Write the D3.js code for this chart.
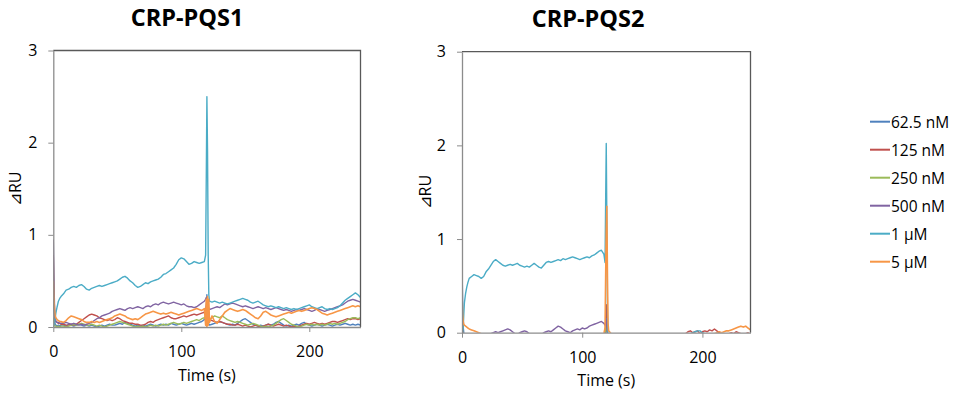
<!DOCTYPE html>
<html><head><meta charset="utf-8">
<script src="https://cdn.jsdelivr.net/npm/d3@7"></script>
<style>body{margin:0;background:#fff}svg{display:block}text{font-family:"Open Sans",sans-serif;fill:#000}</style>
</head><body><svg id="c" width="959" height="394"></svg>
<script>
const times = [0,0.5,1,1.5,2,3,4,5,6,
8,10,12,14,16,18,20,22,24,26,
28,30,32,34,36,38,40,42,44,46,
48,50,52,54,56,58,60,62,64,66,
68,70,72,74,76,78,80,82,84,86,
88,90,92,94,96,98,100,102,104,106,
108,110,112,114,116,118,
119,119.5,120,120.5,121,121.5,122,
124,126,128,130,132,134,136,138,140,142,
144,146,148,150,152,154,156,158,160,162,
164,166,168,170,172,174,176,178,180,182,
184,186,188,190,192,194,196,198,200,202,
204,206,208,210,212,214,216,218,220,222,
224,226,228,230,232,234,236,238,240];
const seriesNames = ["62.5 nM","125 nM","250 nM","500 nM","1 µM","5 µM"];
const panelTitles = ["CRP-PQS1","CRP-PQS2"];
const xTickValues = [0,100,200];
const yTickValues = [0,1,2,3];
const xLabel = "Time (s)";
const yLabel = "⊿RU";

// CRP-PQS1
const pqs1_62_5nM = [0.3,0.15,0.06,0.03,0.02,0.01,0.02,0.01,0.02,
0.02,0.01,0.03,0.02,0.01,0.02,0.03,0.02,0.01,0.02,
0.01,0.02,0.01,0.00,0.01,0.02,0.01,0.02,0.03,0.02,
0.02,0.03,0.04,0.03,0.05,0.04,0.03,0.02,0.01,0.02,
0.01,0.02,0.01,0.02,0.03,0.02,0.01,0.02,0.03,0.02,
0.03,0.02,0.04,0.03,0.02,0.03,0.04,0.03,0.02,0.03,
0.04,0.03,0.04,0.05,0.06,0.08,
0.1,0.2,0.35,0.15,0.05,0.03,0.02,
0.03,0.04,0.05,0.06,0.05,0.04,0.03,0.02,0.03,0.02,
0.04,0.06,0.08,0.09,0.07,0.05,0.03,0.02,0.01,0.02,
0.01,0.02,0.03,0.02,0.03,0.05,0.06,0.04,0.02,0.01,
0.02,0.01,0.02,0.03,0.02,0.04,0.05,0.03,0.02,0.01,
0.02,0.03,0.02,0.01,0.02,0.03,0.02,0.01,0.02,0.03,
0.02,0.03,0.04,0.03,0.02,0.03,0.02,0.03,0.02];
const pqs1_125nM = [0.78,0.4,0.15,0.08,0.06,0.05,0.04,0.04,0.03,
0.03,0.02,0.02,0.03,0.02,0.03,0.05,0.07,0.09,0.11,
0.13,0.14,0.13,0.12,0.1,0.09,0.08,0.07,0.08,0.07,
0.08,0.1,0.09,0.07,0.06,0.05,0.04,0.04,0.03,0.03,
0.02,0.02,0.03,0.05,0.06,0.05,0.07,0.08,0.09,0.1,
0.11,0.12,0.1,0.09,0.09,0.1,0.11,0.12,0.11,0.12,
0.13,0.14,0.13,0.14,0.15,0.16,
0.18,0.22,0.28,0.2,0.12,0.1,0.08,
0.07,0.06,0.05,0.06,0.05,0.04,0.03,0.03,0.02,0.02,
0.03,0.02,0.01,0.02,0.01,0.0,0.01,0.02,0.01,0.0,
0.01,0.02,0.03,0.02,0.01,0.02,0.03,0.02,0.01,0.02,
0.01,0.0,0.01,0.0,0.01,0.02,0.03,0.04,0.03,0.04,
0.05,0.04,0.03,0.04,0.03,0.04,0.05,0.06,0.06,0.05,
0.06,0.07,0.08,0.09,0.08,0.09,0.09,0.08,0.09];
const pqs1_250nM = [0.1,0.05,0.02,0.01,0.01,0.0,0.01,0.0,0.01,
0.01,0.0,0.01,0.02,0.03,0.02,0.03,0.04,0.03,0.02,
0.02,0.03,0.02,0.01,0.02,0.01,0.0,0.01,0.02,0.03,
0.04,0.05,0.06,0.05,0.04,0.03,0.02,0.01,0.0,0.01,
0.0,0.01,0.0,0.01,0.02,0.01,0.02,0.01,0.02,0.03,
0.02,0.03,0.04,0.05,0.04,0.03,0.04,0.05,0.04,0.05,
0.06,0.07,0.08,0.07,0.09,0.1,
0.12,0.16,0.2,0.14,0.1,0.09,0.08,
0.1,0.12,0.11,0.1,0.12,0.1,0.08,0.07,0.06,0.05,
0.06,0.05,0.04,0.03,0.02,0.03,0.04,0.03,0.02,0.01,
0.0,0.01,0.0,0.01,0.02,0.04,0.06,0.08,0.09,0.07,
0.05,0.03,0.02,0.01,0.0,0.01,0.02,0.03,0.02,0.03,
0.02,0.03,0.02,0.03,0.02,0.03,0.04,0.03,0.04,0.03,
0.04,0.05,0.06,0.08,0.09,0.1,0.1,0.09,0.1];
const pqs1_500nM = [0.95,0.5,0.2,0.1,0.06,0.05,0.05,0.04,0.04,
0.04,0.05,0.04,0.03,0.04,0.03,0.02,0.03,0.02,0.03,
0.04,0.05,0.07,0.09,0.1,0.12,0.13,0.14,0.15,0.17,
0.18,0.19,0.2,0.19,0.18,0.2,0.21,0.2,0.21,0.22,
0.21,0.2,0.22,0.23,0.22,0.24,0.25,0.24,0.26,0.27,
0.26,0.25,0.26,0.27,0.26,0.25,0.24,0.25,0.23,0.22,
0.22,0.21,0.22,0.24,0.26,0.28,
0.3,0.32,0.3,0.25,0.22,0.2,0.19,
0.2,0.21,0.22,0.21,0.23,0.25,0.24,0.25,0.26,0.25,
0.24,0.23,0.22,0.23,0.22,0.21,0.2,0.21,0.22,0.21,
0.2,0.21,0.2,0.19,0.2,0.21,0.2,0.19,0.18,0.19,
0.18,0.17,0.18,0.19,0.18,0.19,0.2,0.19,0.18,0.17,
0.18,0.2,0.19,0.18,0.17,0.18,0.19,0.2,0.21,0.22,
0.23,0.24,0.26,0.28,0.29,0.3,0.29,0.28,0.27];
const pqs1_1uM = [0.0,0.02,0.05,0.1,0.15,0.22,0.28,0.31,0.33,
0.36,0.4,0.41,0.43,0.44,0.43,0.45,0.46,0.44,0.41,
0.40,0.42,0.43,0.44,0.45,0.44,0.45,0.46,0.47,0.48,
0.49,0.5,0.52,0.54,0.55,0.53,0.5,0.48,0.45,0.43,
0.44,0.46,0.48,0.47,0.49,0.5,0.51,0.52,0.54,0.57,
0.58,0.6,0.62,0.64,0.68,0.73,0.75,0.74,0.71,0.68,
0.69,0.71,0.7,0.69,0.7,0.71,
0.78,1.6,2.5,1.9,0.8,0.35,0.28,
0.27,0.28,0.27,0.26,0.27,0.26,0.25,0.26,0.27,0.28,
0.29,0.3,0.31,0.3,0.29,0.27,0.26,0.27,0.28,0.26,
0.24,0.23,0.22,0.23,0.22,0.21,0.22,0.21,0.2,0.21,
0.2,0.19,0.2,0.19,0.2,0.21,0.22,0.23,0.24,0.22,
0.21,0.2,0.21,0.22,0.2,0.19,0.2,0.19,0.2,0.21,
0.23,0.26,0.29,0.31,0.33,0.35,0.37,0.35,0.32];
const pqs1_5uM = [0.5,0.3,0.18,0.12,0.1,0.08,0.07,0.06,0.06,
0.05,0.07,0.1,0.12,0.11,0.1,0.09,0.08,0.06,0.05,
0.05,0.06,0.05,0.06,0.05,0.06,0.07,0.08,0.09,0.1,
0.12,0.13,0.14,0.13,0.12,0.1,0.09,0.08,0.09,0.08,
0.1,0.12,0.14,0.15,0.16,0.17,0.16,0.15,0.14,0.15,
0.14,0.15,0.16,0.15,0.14,0.13,0.14,0.15,0.16,0.17,
0.18,0.19,0.2,0.19,0.18,0.2,
0.02,0.3,0.0,0.33,0.02,0.3,0.05,
0.12,0.06,0.04,0.08,0.12,0.16,0.18,0.2,0.19,0.18,
0.17,0.18,0.19,0.18,0.16,0.14,0.12,0.1,0.09,0.12,
0.16,0.17,0.15,0.13,0.12,0.11,0.12,0.13,0.14,0.15,
0.16,0.15,0.16,0.17,0.18,0.17,0.18,0.19,0.2,0.21,
0.2,0.19,0.17,0.15,0.14,0.13,0.14,0.15,0.16,0.17,
0.18,0.19,0.2,0.21,0.22,0.23,0.22,0.23,0.22];

// CRP-PQS2
const pqs2_62_5nM = [0.72,0.35,0.06,0.0,-0.02,-0.03,-0.03,-0.04,-0.04,
-0.04,-0.05,-0.05,-0.06,-0.05,-0.06,-0.05,-0.05,-0.06,-0.05,
-0.05,-0.06,-0.05,-0.04,-0.05,-0.06,-0.05,-0.05,-0.04,-0.05,
-0.05,-0.04,-0.05,-0.06,-0.05,-0.05,-0.04,-0.05,-0.06,-0.05,
-0.05,-0.06,-0.05,-0.05,-0.04,-0.05,-0.06,-0.05,-0.05,-0.04,
-0.05,-0.05,-0.06,-0.05,-0.04,-0.05,-0.05,-0.06,-0.05,-0.05,
-0.04,-0.05,-0.05,-0.04,-0.03,-0.04,
-0.04,0.05,0.2,0.08,-0.03,-0.05,-0.05,
-0.05,-0.06,-0.05,-0.05,-0.04,-0.05,-0.06,-0.05,-0.05,-0.04,
-0.05,-0.05,-0.06,-0.05,-0.04,-0.05,-0.05,-0.06,-0.05,-0.05,
-0.04,-0.05,-0.05,-0.06,-0.05,-0.04,-0.05,-0.05,-0.04,-0.03,
-0.03,-0.02,-0.01,-0.02,-0.01,-0.02,-0.03,-0.02,-0.03,-0.04,
-0.04,-0.03,-0.02,-0.03,-0.02,-0.01,-0.02,-0.03,-0.02,-0.01,
-0.02,-0.01,-0.02,-0.01,-0.02,-0.01,-0.02,-0.03,-0.02];
const pqs2_125nM = [0.1,0.04,-0.01,-0.03,-0.04,-0.04,-0.05,-0.05,-0.05,
-0.05,-0.06,-0.05,-0.05,-0.06,-0.05,-0.04,-0.05,-0.06,-0.05,
-0.05,-0.05,-0.06,-0.05,-0.04,-0.05,-0.05,-0.06,-0.05,-0.05,
-0.06,-0.05,-0.05,-0.04,-0.05,-0.06,-0.05,-0.05,-0.04,-0.05,
-0.05,-0.06,-0.05,-0.04,-0.05,-0.05,-0.06,-0.05,-0.05,-0.04,
-0.05,-0.04,-0.05,-0.06,-0.05,-0.05,-0.04,-0.05,-0.05,-0.06,
-0.05,-0.04,-0.05,-0.04,-0.03,-0.04,
-0.03,0.1,0.3,0.12,-0.02,-0.04,-0.05,
-0.05,-0.05,-0.06,-0.05,-0.05,-0.04,-0.05,-0.06,-0.05,-0.05,
-0.05,-0.06,-0.05,-0.04,-0.05,-0.05,-0.04,-0.05,-0.05,-0.04,
-0.04,-0.05,-0.04,-0.04,-0.03,-0.04,-0.03,-0.03,-0.02,-0.03,
-0.02,-0.01,0.01,0.02,0.0,0.01,0.02,-0.01,0.01,0.02,
0.01,0.03,0.02,0.04,0.02,0.0,-0.02,-0.03,-0.02,-0.01,
0.0,-0.01,0.01,0.0,-0.01,-0.02,-0.01,0.0,-0.02];
const pqs2_250nM = [0.05,0.0,-0.03,-0.04,-0.05,-0.05,-0.06,-0.06,-0.06,
-0.06,-0.07,-0.06,-0.06,-0.07,-0.06,-0.06,-0.07,-0.06,-0.06,
-0.07,-0.06,-0.06,-0.07,-0.06,-0.06,-0.07,-0.06,-0.06,-0.07,
-0.06,-0.06,-0.07,-0.06,-0.06,-0.07,-0.06,-0.06,-0.07,-0.06,
-0.06,-0.07,-0.06,-0.06,-0.07,-0.06,-0.06,-0.07,-0.06,-0.06,
-0.07,-0.06,-0.06,-0.07,-0.06,-0.06,-0.07,-0.06,-0.06,-0.05,
-0.06,-0.05,-0.06,-0.05,-0.05,-0.05,
-0.03,0.05,0.15,0.05,-0.03,-0.05,-0.05,
-0.06,-0.06,-0.07,-0.06,-0.06,-0.07,-0.06,-0.06,-0.07,-0.06,
-0.06,-0.07,-0.06,-0.06,-0.07,-0.06,-0.06,-0.07,-0.06,-0.06,
-0.07,-0.06,-0.06,-0.07,-0.06,-0.06,-0.05,-0.06,-0.05,-0.05,
-0.05,-0.04,-0.05,-0.04,-0.04,-0.05,-0.04,-0.04,-0.05,-0.04,
-0.04,-0.05,-0.04,-0.04,-0.05,-0.04,-0.04,-0.05,-0.04,-0.04,
-0.04,-0.05,-0.04,-0.04,-0.03,-0.04,-0.04,-0.03,-0.04];
const pqs2_500nM = [0.05,0.0,-0.02,-0.03,-0.03,-0.04,-0.04,-0.04,-0.04,
-0.04,-0.04,-0.05,-0.04,-0.03,-0.03,-0.02,-0.02,-0.01,0.0,
0.01,0.0,0.01,0.02,0.03,0.04,0.03,0.01,-0.01,-0.02,
0.0,0.01,0.02,0.01,-0.01,-0.02,-0.03,-0.02,-0.03,-0.02,
0.0,0.01,0.02,0.01,0.03,0.05,0.07,0.06,0.04,0.02,
0.01,0.0,0.02,0.03,0.04,0.03,0.05,0.04,0.05,0.07,
0.08,0.09,0.1,0.11,0.12,0.1,
0.08,0.1,0.15,0.05,-0.02,-0.04,-0.05,
-0.05,-0.05,-0.06,-0.05,-0.05,-0.06,-0.05,-0.05,-0.06,-0.05,
-0.05,-0.06,-0.05,-0.05,-0.06,-0.05,-0.05,-0.04,-0.05,-0.04,
-0.04,-0.05,-0.04,-0.04,-0.03,-0.04,-0.03,-0.03,-0.02,-0.02,
-0.02,-0.01,-0.02,-0.01,-0.02,-0.01,-0.02,-0.02,-0.01,-0.02,
-0.02,-0.03,-0.02,-0.03,-0.02,-0.03,-0.02,-0.01,-0.02,-0.01,
-0.01,-0.02,-0.01,-0.02,-0.01,-0.02,-0.01,-0.02,-0.02];
const pqs2_1uM = [0.0,-0.02,0.05,0.2,0.32,0.42,0.49,0.54,0.58,
0.6,0.62,0.61,0.6,0.58,0.6,0.65,0.68,0.72,0.76,
0.78,0.76,0.74,0.72,0.71,0.72,0.73,0.72,0.73,0.74,
0.72,0.71,0.7,0.71,0.7,0.72,0.74,0.72,0.7,0.69,
0.72,0.75,0.76,0.75,0.76,0.77,0.78,0.77,0.79,0.78,
0.79,0.8,0.81,0.8,0.79,0.78,0.79,0.8,0.81,0.8,
0.82,0.83,0.85,0.87,0.88,0.84,
0.75,1.4,2.02,1.2,0.2,-0.02,-0.05,
-0.05,-0.05,-0.04,-0.05,-0.06,-0.05,-0.05,-0.04,-0.05,-0.05,
-0.04,-0.05,-0.05,-0.04,-0.05,-0.04,-0.03,-0.04,-0.03,-0.03,
-0.04,-0.03,-0.03,-0.02,-0.03,-0.02,-0.03,-0.02,-0.02,-0.03,
-0.03,-0.02,-0.02,-0.01,0.0,0.01,0.02,0.02,0.0,-0.01,
-0.02,-0.02,-0.03,-0.02,-0.02,-0.03,-0.02,-0.02,-0.03,-0.02,
-0.02,-0.03,-0.02,-0.02,-0.03,-0.02,-0.02,-0.01,-0.02];
const pqs2_5uM = [0.4,0.2,0.12,0.09,0.08,0.07,0.06,0.05,0.04,
0.03,0.02,0.01,0.0,-0.01,-0.02,-0.03,-0.03,-0.04,-0.04,
-0.04,-0.05,-0.04,-0.04,-0.05,-0.04,-0.04,-0.05,-0.04,-0.04,
-0.05,-0.04,-0.04,-0.05,-0.04,-0.04,-0.05,-0.04,-0.04,-0.05,
-0.04,-0.04,-0.05,-0.04,-0.04,-0.05,-0.04,-0.04,-0.05,-0.04,
-0.04,-0.05,-0.04,-0.04,-0.05,-0.04,-0.04,-0.05,-0.04,-0.04,
-0.04,-0.04,-0.03,-0.03,-0.02,-0.01,
0.05,0.6,1.1,1.35,0.6,0.1,0.02,
-0.01,-0.02,-0.03,-0.04,-0.04,-0.05,-0.04,-0.04,-0.05,-0.04,
-0.04,-0.05,-0.04,-0.04,-0.05,-0.04,-0.04,-0.05,-0.04,-0.04,
-0.05,-0.04,-0.04,-0.05,-0.04,-0.04,-0.05,-0.04,-0.04,-0.05,
-0.04,-0.04,-0.05,-0.04,-0.04,-0.03,-0.04,-0.03,-0.03,-0.04,
-0.03,-0.03,-0.02,-0.01,0.0,0.01,0.0,0.01,0.02,0.02,
0.03,0.04,0.05,0.06,0.07,0.06,0.07,0.05,0.03];

const pqs1Series = [pqs1_62_5nM,pqs1_125nM,pqs1_250nM,pqs1_500nM,pqs1_1uM,pqs1_5uM];
const pqs2Series = [pqs2_62_5nM,pqs2_125nM,pqs2_250nM,pqs2_500nM,pqs2_1uM,pqs2_5uM];

// ---- styling & layout ----
const colors = ["#4F81BD","#C0504D","#9BBB59","#8064A2","#4BACC6","#F79646"];
const panels = [
  {title: panelTitles[0], series: pqs1Series, x0: 53.3, x1: 360.5, yb: 327, yt: 50.5, titleX: 187, titleY: 26, ylx: 15, xlY: 381},
  {title: panelTitles[1], series: pqs2Series, x0: 462, x1: 750.5, yb: 332.7, yt: 51.7, titleX: 588, titleY: 27, ylx: 425, xlY: 386}
];
const svg = d3.select("#c");

panels.forEach((p, pi) => {
  const x = d3.scaleLinear().domain([0,240]).range([p.x0,p.x1]);
  const y = d3.scaleLinear().domain([0,3]).range([p.yb,p.yt]);
  const g = svg.append("g");
  const clipId = "clip" + pi;
  svg.append("clipPath").attr("id", clipId).append("rect")
    .attr("x", p.x0).attr("y", p.yt).attr("width", p.x1 - p.x0).attr("height", p.yb - p.yt);

  const line = d3.line().x((d,i) => x(times[i])).y(d => y(d));
  const lg = g.append("g").attr("clip-path", `url(#${clipId})`);
  p.series.forEach((s, si) => {
    lg.append("path").datum(s).attr("d", line)
      .attr("fill","none").attr("stroke", colors[si])
      .attr("stroke-width", si === 5 ? 1.6 : 1.4).attr("stroke-linejoin","round");
  });

  // border (top & right)
  g.append("path")
    .attr("d", `M${p.x0},${p.yt}H${p.x1}V${p.yb}`)
    .attr("fill","none").attr("stroke","#595959").attr("stroke-width",1.3);

  const yAxis = d3.axisLeft(y).tickValues(yTickValues).tickFormat(d3.format("d")).tickSize(5).tickSizeOuter(0).tickPadding(11);
  const ya = g.append("g").attr("transform", `translate(${p.x0},0)`).call(yAxis);
  const xAxis = d3.axisBottom(x).tickValues(xTickValues).tickFormat(d3.format("d")).tickSize(5).tickSizeOuter(0).tickPadding(14);
  const xa = g.append("g").attr("transform", `translate(0,${p.yb})`).call(xAxis);
  [ya, xa].forEach(a => {
    a.select(".domain").attr("stroke","#8c8c8c").attr("stroke-width",1.3);
    a.selectAll(".tick line").attr("stroke","#8c8c8c").attr("stroke-width",1);
    a.selectAll(".tick text").attr("font-family","'Open Sans',sans-serif").attr("font-size",16).attr("fill","#000");
  });

  g.append("text").attr("x", p.titleX).attr("y", p.titleY).attr("text-anchor","middle")
    .attr("font-size", 23.5).attr("font-weight", 700).text(p.title);
  g.append("text").attr("x", (p.x0 + p.x1) / 2).attr("y", p.xlY).attr("text-anchor","middle")
    .attr("font-size", 16).text(xLabel);
  g.append("text").attr("transform", `translate(${p.ylx},${(p.yt + p.yb) / 2}) rotate(-90)`)
    .attr("text-anchor","middle").attr("dominant-baseline","central")
    .attr("font-size", 16).text(yLabel);
});

// legend
const leg = svg.append("g");
seriesNames.forEach((n, i) => {
  const yy = 121.7 + i * 28;
  leg.append("line").attr("x1", 870).attr("x2", 890).attr("y1", yy).attr("y2", yy)
    .attr("stroke", colors[i]).attr("stroke-width", 2);
  leg.append("text").attr("x", 891).attr("y", yy).attr("dominant-baseline","central")
    .attr("font-size", 15.5).text(n);
});
</script></body></html>
